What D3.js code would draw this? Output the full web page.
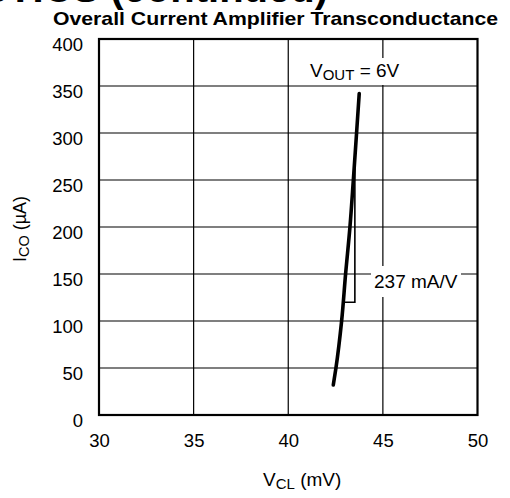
<!DOCTYPE html>
<html>
<head>
<meta charset="utf-8">
<script src="https://cdn.jsdelivr.net/npm/d3@7"></script>
<style>
  html, body { margin: 0; padding: 0; background: #fff; }
  svg { display: block; }
  text { font-family: "Liberation Sans", Arial, Helvetica, sans-serif; fill: #000; }
</style>
</head>
<body>
<svg id="chart" width="510" height="498"></svg>
<script>
// ---- data ----
const xTicks = [30, 35, 40, 45, 50];
const yTicks = [0, 50, 100, 150, 200, 250, 300, 350, 400];
const vclValues = [42.38, 42.52, 42.82, 43.03, 43.26, 43.44, 43.61, 43.75];
const icoValues = [32, 50, 100, 150, 200, 250, 300, 342];
const slopeX = [42.97, 43.52, 43.52];
const slopeY = [120, 120, 276];
const slopeLabel = "237 mA/V";
const titleText = "Overall Current Amplifier Transconductance";
const headerText = "TYPICAL CHARACTERISTICS (continued)";

const svg = d3.select("#chart");
const m = { left: 99, right: 477.5, top: 39, bottom: 415 };

const x = d3.scaleLinear().domain([30, 50]).range([m.left, m.right]);
const y = d3.scaleLinear().domain([0, 400]).range([m.bottom, m.top]);

// clipped header
svg.append("text")
  .attr("x", 328).attr("y", 2)
  .attr("text-anchor", "end")
  .style("font-size", "40px").style("font-weight", "bold")
  .text(headerText);

// title
svg.append("text")
  .attr("x", 53).attr("y", 25)
  .attr("textLength", 445).attr("lengthAdjust", "spacingAndGlyphs")
  .style("font-size", "18.5px").style("font-weight", "bold")
  .text(titleText);

// gridlines
const grid = svg.append("g");
grid.selectAll(".vg").data(xTicks.slice(1, -1)).enter().append("line")
  .attr("x1", d => x(d)).attr("x2", d => x(d))
  .attr("y1", m.top).attr("y2", m.bottom)
  .attr("stroke", "#000").attr("stroke-width", 1.2);
grid.selectAll(".hg").data(yTicks.slice(1, -1)).enter().append("line")
  .attr("x1", m.left).attr("x2", m.right)
  .attr("y1", d => y(d)).attr("y2", d => y(d))
  .attr("stroke", "#000").attr("stroke-width", 1.2);

// axes (labels only)
const xAxis = svg.append("g")
  .attr("transform", `translate(0,${m.bottom})`)
  .call(d3.axisBottom(x).tickValues(xTicks).tickSize(0).tickPadding(19));
xAxis.select(".domain").remove();
xAxis.selectAll("text").style("font-size", "18.5px").style("font-family", "Liberation Sans, Arial, sans-serif");

const yAxis = svg.append("g")
  .attr("transform", `translate(${m.left},0)`)
  .call(d3.axisLeft(y).tickValues(yTicks).tickSize(0).tickPadding(16));
yAxis.select(".domain").remove();
yAxis.selectAll("text").style("font-size", "18.5px").attr("dy", "0.6em")
  .style("font-family", "Liberation Sans, Arial, sans-serif");

// frame
svg.append("rect")
  .attr("x", m.left).attr("y", m.top)
  .attr("width", m.right - m.left).attr("height", m.bottom - m.top)
  .attr("fill", "none").attr("stroke", "#000").attr("stroke-width", 2.2);

// slope triangle
const tri = slopeX.map((d, i) => [d, slopeY[i]]);
svg.append("path")
  .attr("d", d3.line().x(d => x(d[0])).y(d => y(d[1]))(tri))
  .attr("fill", "none").attr("stroke", "#000").attr("stroke-width", 1.6);

// curve
const pts = vclValues.map((d, i) => [d, icoValues[i]]);
svg.append("path")
  .attr("d", d3.line().x(d => x(d[0])).y(d => y(d[1])).curve(d3.curveMonotoneY)(pts))
  .attr("fill", "none").attr("stroke", "#000").attr("stroke-width", 3.6)
  .attr("stroke-linecap", "round");

// V_OUT label with white background
svg.append("rect").attr("x", 306).attr("y", 58).attr("width", 98).attr("height", 27).attr("fill", "#fff");
const vout = svg.append("text").attr("x", 310).attr("y", 77).style("font-size", "19px");
vout.append("tspan").text("V");
vout.append("tspan").attr("dy", 3).style("font-size", "15px").text("OUT");
vout.append("tspan").attr("dy", -3).text(" = 6V");

// slope label with white background
svg.append("rect").attr("x", 371).attr("y", 266).attr("width", 90).attr("height", 31).attr("fill", "#fff");
svg.append("text").attr("x", 374).attr("y", 288).style("font-size", "19px").text(slopeLabel);

// axis titles
const xt = svg.append("text").attr("x", 263).attr("y", 486).style("font-size", "19px");
xt.append("tspan").text("V");
xt.append("tspan").attr("dy", 3).style("font-size", "15px").text("CL");
xt.append("tspan").attr("dy", -3).text(" (mV)");

const yt = svg.append("text")
  .attr("transform", "translate(26,229) rotate(-90)")
  .attr("text-anchor", "middle").style("font-size", "18px");
yt.append("tspan").text("I");
yt.append("tspan").attr("dy", 3).style("font-size", "14.5px").text("CO");
yt.append("tspan").attr("dy", -3).text(" (µA)");
</script>
</body>
</html>
